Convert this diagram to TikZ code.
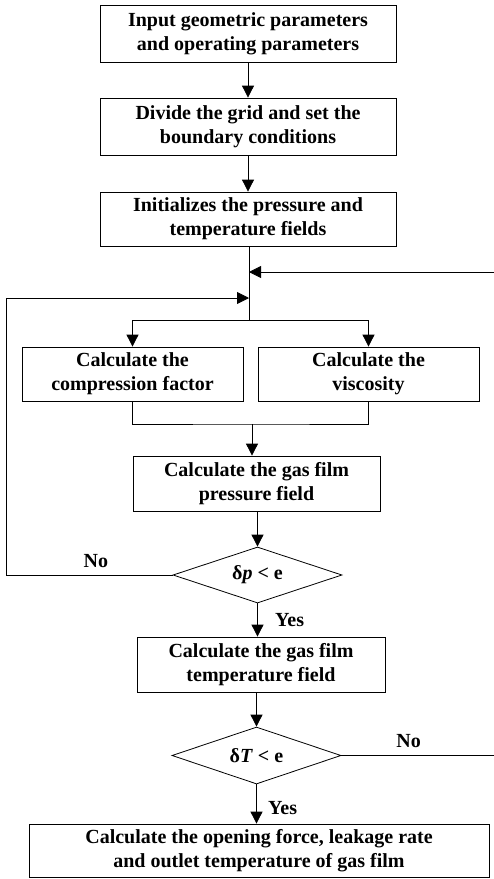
\documentclass[tikz,border=0pt]{standalone}
\usepackage{fontspec}
\setmainfont{Liberation Serif}
\usetikzlibrary{arrows.meta,shapes.geometric,positioning}

\begin{document}
\begin{tikzpicture}[x=1pt,y=-1pt,line width=0.8pt,
    >={Triangle[length=12pt,width=12pt]},
    box/.style={draw,rectangle,align=center,inner sep=0pt,
      font=\fontsize{20}{24}\selectfont\bfseries},
    test/.style={draw,diamond,aspect=3,inner sep=0pt,minimum width=169pt,minimum height=56pt,
      font=\fontsize{20}{24}\selectfont\bfseries},
    lbl/.style={font=\fontsize{20}{24}\selectfont\bfseries}]
    \useasboundingbox (0,0) rectangle (494,879);
    % main column
    \node[box,minimum width=296pt,minimum height=57pt] (input) at (248,33.5)
      {Input geometric parameters\\and operating parameters};
    \node[box,minimum width=296pt,minimum height=57pt] (grid) at (248,126.5)
      {Divide the grid and set the\\boundary conditions};
    \node[box,minimum width=296pt,minimum height=54pt] (init) at (248,219)
      {Initializes the pressure and\\temperature fields};
    \node[box,minimum width=221pt,minimum height=54pt] (comp) at (132.5,374)
      {Calculate the\\compression factor};
    \node[box,minimum width=221pt,minimum height=54pt] (visc) at (368.5,374)
      {Calculate the\\viscosity};
    \node[box,minimum width=247pt,minimum height=55pt] (press) at (256.5,483.5)
      {Calculate the gas film\\pressure field};
    \node[test] (dp) at (257.5,575) {δ\textit{p} < e};
    \node[box,minimum width=248pt,minimum height=55pt] (temp) at (261,664.5)
      {Calculate the gas film\\temperature field};
    \node[test,minimum height=57pt] (dT) at (256.5,755.5) {δ\textit{T} < e};
    \node[box,minimum width=460pt,minimum height=53pt] (result) at (259,850.5)
      {Calculate the opening force, leakage rate\\and outlet temperature of gas film};
    % junction points
    \coordinate (split) at (249,320);
    \coordinate (joinT) at (249,272);
    \coordinate (joinP) at (249,298);
    \coordinate (retT) at (494,272);
    \coordinate (outT) at (494,755.5);
    \coordinate (loopP) at (6,575);
    \coordinate (merge) at (252,424);
    % connectors
    \draw[->] (input) -- (grid);
    \draw[->] (grid) -- (init);
    \draw (init.south -| split) -- (split);
    \draw[->] (split) -| (comp.north);
    \draw[->] (split) -| (visc.north);
    \draw (comp.south) |- (merge) -| (visc.south);
    \draw[->] (merge) -- (press.north -| merge);
    \draw[->] (press.south -| dp.north) -- (dp.north);
    \draw[->] (dp.south) -- node[lbl,right=14pt] {Yes} (temp.north -| dp.south);
    \draw[->] (temp.south -| dT.north) -- (dT.north);
    \draw[->] (dT.south) -- node[lbl,right=8pt,yshift=-4pt] {Yes} (result.north -| dT.south);
    \draw[->] (dp.west) -- node[lbl,above=4pt,pos=0.46] {No} (loopP) -- (loopP |- joinP) -- (joinP);
    \draw (dT.east) -- node[lbl,above=4pt,pos=0.44] {No} (outT);
    \draw[->] (retT) -- (joinT);
\end{tikzpicture}
\end{document}
